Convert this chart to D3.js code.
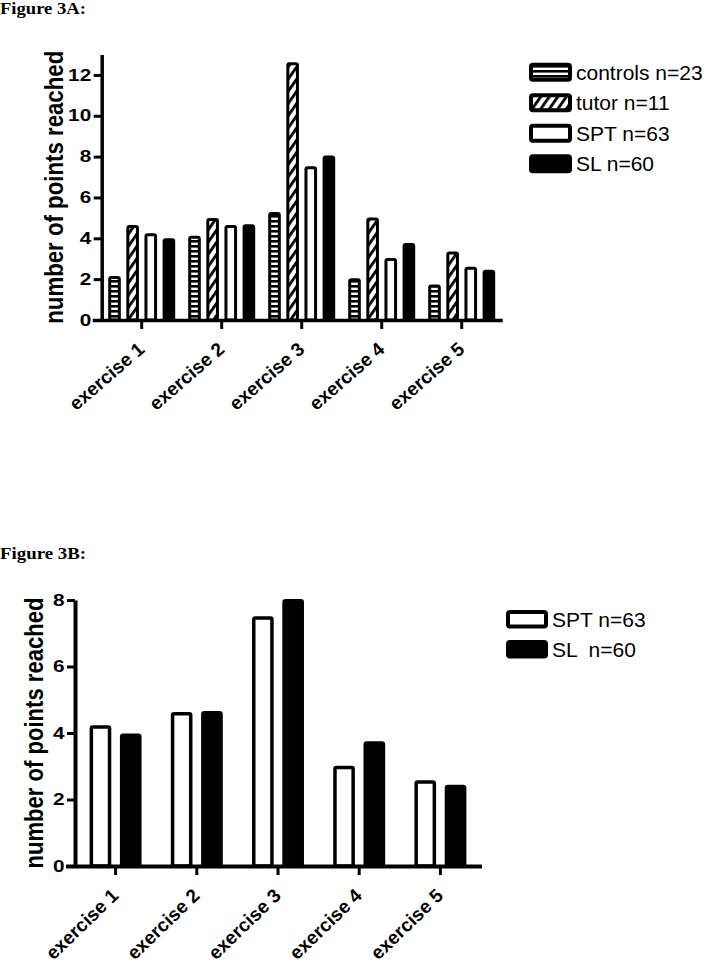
<!DOCTYPE html>
<html>
<head>
<meta charset="utf-8">
<script src="https://cdn.jsdelivr.net/npm/d3@7"></script>
<style>
  html, body { margin: 0; padding: 0; background: #fff; }
  svg { display: block; }
</style>
</head>
<body>
<script>
// ---------- data ----------
const exercises = ["exercise 1", "exercise 2", "exercise 3", "exercise 4", "exercise 5"];
const seriesA = ["controls n=23", "tutor n=11", "SPT n=63", "SL n=60"];
const seriesB = ["SPT n=63", "SL  n=60"];
const controls = [2.08, 4.05, 5.22, 1.97, 1.67];
const tutor = [4.58, 4.92, 12.55, 4.94, 3.28];
const spt = [4.18, 4.58, 7.46, 2.96, 2.53];
const sl = [3.93, 4.61, 7.98, 3.70, 2.39];
const ticksA = [0, 2, 4, 6, 8, 10, 12];
const ticksB = [0, 2, 4, 6, 8];
const yTitle = "number of points reached";

const SANS = "'Liberation Sans', Arial, sans-serif";
const SERIF = "'Liberation Serif', 'Times New Roman', serif";

const W = 708, H = 963;
const svg = d3.select("body").append("svg").attr("width", W).attr("height", H);

// patterns
const defs = svg.append("defs");
const pH = defs.append("pattern").attr("id", "hstripe").attr("patternUnits", "userSpaceOnUse")
  .attr("width", 6).attr("height", 5);
pH.append("rect").attr("width", 6).attr("height", 5).attr("fill", "#fff");
pH.append("rect").attr("y", 0).attr("width", 6).attr("height", 2.6).attr("fill", "#000");
const pD = defs.append("pattern").attr("id", "diag").attr("patternUnits", "userSpaceOnUse")
  .attr("width", 7).attr("height", 7).attr("patternTransform", "rotate(35)");
pD.append("rect").attr("width", 7).attr("height", 7).attr("fill", "#fff");
pD.append("rect").attr("x", 0).attr("width", 2.8).attr("height", 7).attr("fill", "#000");

const fills = {
  "controls n=23": "url(#hstripe)",
  "tutor n=11": "url(#diag)",
  "SPT n=63": "#fff",
  "SL n=60": "#000",
  "SL  n=60": "#000"
};

function drawChart(cfg) {
  const g = svg.append("g");
  const x0 = d3.scaleBand().domain(exercises).range([cfg.x0, cfg.x1])
    .paddingInner(cfg.pad).paddingOuter(cfg.pad / 2);
  const x1 = d3.scaleBand().domain(cfg.series.map(s => s.name))
    .range([cfg.barInset, x0.bandwidth() - cfg.barInset]).paddingInner(cfg.barPad).paddingOuter(0);
  const y = d3.scaleLinear().domain([0, cfg.ymax]).range([cfg.yBottom, cfg.yTop]);

  // bars
  cfg.series.forEach(s => {
    g.append("g").selectAll("rect").data(s.values).join("rect")
      .attr("x", (d, i) => x0(exercises[i]) + x1(s.name))
      .attr("y", d => y(d))
      .attr("width", x1.bandwidth())
      .attr("height", d => y(0) - y(d))
      .attr("rx", 1.5)
      .attr("fill", fills[s.name])
      .attr("stroke", "#000")
      .attr("stroke-width", cfg.barStroke);
  });

  // y axis
  const sx = 1.3;
  const ya = g.append("g").attr("transform", `translate(${cfg.x0},0)`)
    .call(d3.axisLeft(y).tickValues(cfg.ticks).tickSize(8).tickSizeOuter(0));
  ya.select(".domain").attr("stroke-width", cfg.axisStroke);
  ya.selectAll(".tick line").attr("stroke-width", 3);
  ya.selectAll(".tick text")
    .style("font-family", SANS).style("font-size", "16px").style("font-weight", "bold")
    .attr("fill", "#000")
    .attr("x", -10.5 / sx)
    .attr("transform", `scale(${sx},1)`);

  // x axis
  const xa = g.append("g").attr("transform", `translate(0,${cfg.yBottom})`)
    .call(d3.axisBottom(x0).tickSize(9).tickSizeOuter(0));
  xa.select(".domain").attr("stroke-width", cfg.axisStroke).attr("d", `M${cfg.x0 - 9},0.5H${cfg.x1 + 1}`);
  xa.selectAll(".tick line").attr("stroke-width", 3);
  xa.selectAll(".tick text")
    .style("font-family", SANS).style("font-size", "19px").style("font-weight", "bold")
    .attr("fill", "#000")
    .attr("text-anchor", "end").attr("y", 0).attr("dy", 0)
    .attr("transform", `translate(4,31) rotate(${-cfg.labAngle})`);

  // y title
  g.append("text")
    .attr("transform", `translate(${cfg.titleX},${(cfg.yTop + cfg.yBottom) / 2}) rotate(-90)`)
    .attr("text-anchor", "middle")
    .style("font-family", SANS).style("font-size", "25px").style("font-weight", "bold")
    .attr("textLength", cfg.titleLen).attr("lengthAdjust", "spacingAndGlyphs")
    .text(yTitle);

  // legend
  const lg = g.append("g");
  cfg.series.forEach((s, i) => {
    const top = cfg.legY + i * cfg.legStep;
    lg.append("rect").attr("x", cfg.legX + 2).attr("y", top + 2)
      .attr("width", cfg.legW - 4).attr("height", cfg.legH - 4).attr("rx", 2)
      .attr("fill", fills[s.name]).attr("stroke", "#000").attr("stroke-width", 4);
    lg.append("text").attr("x", cfg.legX + cfg.legW + 4).attr("y", top + cfg.legH - 2)
      .style("font-family", SANS).style("font-size", "21px").style("white-space", "pre")
      .attr("fill", "#000")
      .text(s.name);
  });

  // figure label
  svg.append("text").attr("x", 0).attr("y", cfg.figY)
    .style("font-family", SERIF).style("font-weight", "bold").style("font-size", "17px")
    .attr("textLength", 86).attr("lengthAdjust", "spacingAndGlyphs")
    .text(cfg.fig);
}

drawChart({
  fig: "Figure 3A:", figY: 14,
  series: [
    { name: seriesA[0], values: controls },
    { name: seriesA[1], values: tutor },
    { name: seriesA[2], values: spt },
    { name: seriesA[3], values: sl }
  ],
  x0: 101.7, x1: 501.7, pad: 0.1625, barInset: 1.5, barPad: 0.47,
  ymax: 13, yBottom: 320, yTop: 54.5, ticks: ticksA,
  barStroke: 3, axisStroke: 3.5,
  titleX: 63, titleLen: 273, labAngle: 41,
  legX: 529, legY: 62.7, legStep: 30.5, legW: 43, legH: 19
});

drawChart({
  fig: "Figure 3B:", figY: 559,
  series: [
    { name: seriesB[0], values: spt },
    { name: seriesB[1], values: sl }
  ],
  x0: 75, x1: 481, pad: 0.36, barInset: 1.75, barPad: 0.4,
  ymax: 8, yBottom: 866, yTop: 600, ticks: ticksB,
  barStroke: 3.5, axisStroke: 4,
  titleX: 43, titleLen: 271, labAngle: 44,
  legX: 506, legY: 610, legStep: 30, legW: 42, legH: 18.5
});
</script>
</body>
</html>
